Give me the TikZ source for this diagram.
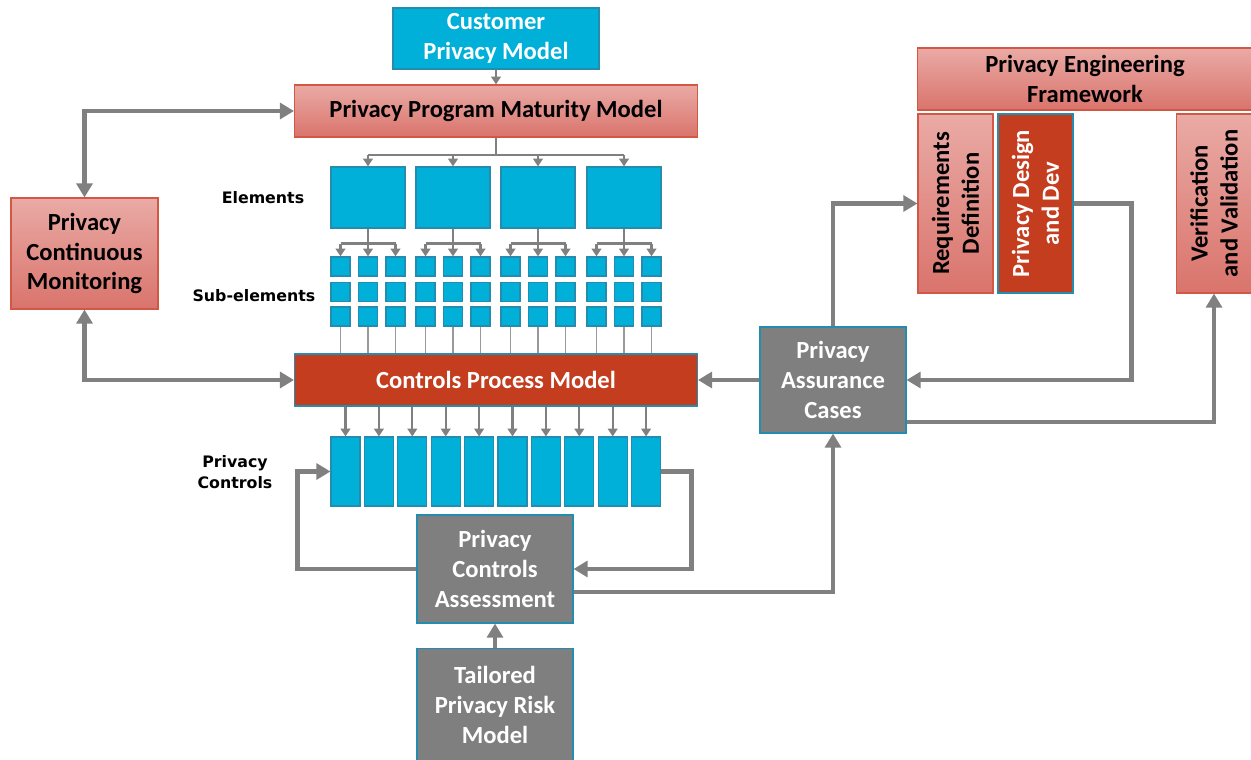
\documentclass[tikz,border=0pt]{standalone}
\usepackage{fontspec}
\setmainfont{Carlito}
\newfontfamily\labelfont{DejaVu Sans}
\usetikzlibrary{arrows.meta}
\definecolor{boxcyan}{RGB}{0,176,216}
\definecolor{cyanedge}{RGB}{35,140,175}
\definecolor{pinktop}{RGB}{234,170,165}
\definecolor{pinkbot}{RGB}{217,116,108}
\definecolor{pinkedge}{RGB}{208,88,68}
\definecolor{rustred}{RGB}{196,61,31}
\definecolor{boxgray}{RGB}{127,127,127}
\definecolor{linegray}{RGB}{128,128,128}
\begin{document}
\begin{tikzpicture}[x=0.02cm,y=-0.02cm,
        txt/.style={font=\fontsize{14}{17}\selectfont\bfseries,align=center,inner sep=0pt,line width=0.6pt},
        cyanbox/.style={txt,fill=boxcyan,draw=cyanedge,text=white},
        pinkbox/.style={txt,top color=pinktop,bottom color=pinkbot,draw=pinkedge,text=black},
        rustbox/.style={txt,fill=rustred,draw=cyanedge,text=white},
        graybox/.style={txt,fill=boxgray,draw=cyanedge,text=white},
        sidelabel/.style={font=\labelfont\bfseries\fontsize{9}{12}\selectfont,align=center},
        bigarrow/.style={draw=linegray,line width=2.8pt,-{Triangle[length=8pt,width=9pt]}},
        bothways/.style={draw=linegray,line width=2.8pt,{Triangle[length=8pt,width=9pt]}-{Triangle[length=8pt,width=9pt]}},
        treeline/.style={draw=linegray,line width=1.4pt},
        treearrow/.style={draw=linegray,line width=1.2pt,-{Triangle[length=4.5pt,width=5.5pt]}},
        thinline/.style={draw=linegray!80,line width=0.7pt}]
    \useasboundingbox (0,0) rectangle (1251,760);
    \clip (0,0) rectangle (1251,760);
    % left column of models
    \node[cyanbox,minimum width=4.12cm,minimum height=1.22cm] (cust) at (496,38.5) {Customer\\Privacy Model};
    \node[pinkbox,minimum width=8.06cm,minimum height=1.04cm] (ppmm) at (496,111) {Privacy Program Maturity Model};
    \node[rustbox,minimum width=8.06cm,minimum height=1.04cm] (cpmodel) at (496,380) {Controls Process Model};
    \node[pinkbox,minimum width=2.94cm,minimum height=2.22cm] (pcm) at (84.5,253.5) {Privacy\\Continuous\\Monitoring};
    \node[graybox,minimum width=3.12cm,minimum height=2.16cm] (pca) at (495,569) {Privacy\\Controls\\Assessment};
    \node[graybox,minimum width=3.12cm,minimum height=2.26cm] (tprm) at (495,705) {Tailored\\Privacy Risk\\Model};
    \node[graybox,minimum width=2.92cm,minimum height=2.12cm] (pac) at (833,380) {Privacy\\Assurance\\Cases};
    % engineering framework
    \node[pinkbox,minimum width=6.7cm,minimum height=1.24cm] (pef) at (1085,79) {Privacy Engineering\\Framework};
    \node[pinkbox,rotate=90,minimum width=3.58cm,minimum height=1.5cm] (reqdef) at (955.5,203.5) {Requirements\\Definition};
    \node[rustbox,rotate=90,minimum width=3.58cm,minimum height=1.5cm] (pdd) at (1035.5,203.5) {Privacy Design\\and Dev};
    \node[pinkbox,rotate=90,minimum width=3.58cm,minimum height=1.5cm] (vv) at (1214,203.5) {Verification\\and Validation};
    % elements and sub-elements
    \node[sidelabel] (lblel) at (263,198) {Elements};
    \node[sidelabel] (lblsub) at (254,296) {Sub-elements};
    \node[sidelabel] (lblctrl) at (235,472) {Privacy\\Controls};
    \coordinate (eltop) at (ppmm.south |- 0,155);
    \draw[treearrow] (cust) -- (ppmm);
    \draw[treeline] (ppmm.south) -- (eltop);
    \foreach \i/\x in {1/368,2/453,3/538,4/624}{
        \node[cyanbox,minimum width=1.48cm,minimum height=1.22cm] (el\i) at (\x,197.5) {};
        \draw[treearrow] (el\i.north |- eltop) -- (el\i.north);
        \foreach \j/\dx in {1/-27.5,2/0,3/27.5}
            \foreach \k/\y in {1/266.5,2/292,3/316.5}
                \node[cyanbox,minimum size=0.38cm] (sub\i\j\k) at ({\x+(\dx)},\y) {};
        \draw[treeline] (el\i.south) -- ++(0,15) coordinate (subtop\i);
        \draw[treeline] (sub\i11.north |- subtop\i) -- (sub\i31.north |- subtop\i);
        \foreach \j in {1,2,3}{
            \draw[treearrow] (sub\i\j1.north |- subtop\i) -- (sub\i\j1.north);
            \draw[thinline] (sub\i\j3.south) -- (sub\i\j3.south |- cpmodel.north);
        }
    }
    \draw[treeline] (el1.north |- eltop) -- (el4.north |- eltop);
    % privacy controls
    \foreach \i in {1,...,10}{
        \node[cyanbox,minimum width=0.58cm,minimum height=1.38cm] (ctrl\i) at ({345.5+33.4*(\i-1)},471.5) {};
        \draw[treearrow] (ctrl\i.north |- cpmodel.south) -- (ctrl\i.north);
    }
    % feedback loops
    \draw[bothways] (pcm.north) |- (ppmm.west);
    \draw[bothways] (pcm.south) |- (cpmodel.west);
    \draw[bigarrow] (pca.west) -- ++(-119,0) |- (ctrl1.west);
    \draw[bigarrow] (ctrl10.east) -- ++(30,0) |- (pca.east);
    \draw[bigarrow] (tprm) -- (pca);
    \draw[bigarrow] ([yshift=-0.46cm]pca.east) -| (pac.south);
    \draw[bigarrow] (pac.west) -- (cpmodel.east);
    \draw[bigarrow] (pac.north) |- (reqdef.north);
    \draw[bigarrow] (pdd.south) -- ++(58,0) |- (pac.east);
    \draw[bigarrow] ([yshift=-0.84cm]pac.east) -| (vv.west);
\end{tikzpicture}
\end{document}
